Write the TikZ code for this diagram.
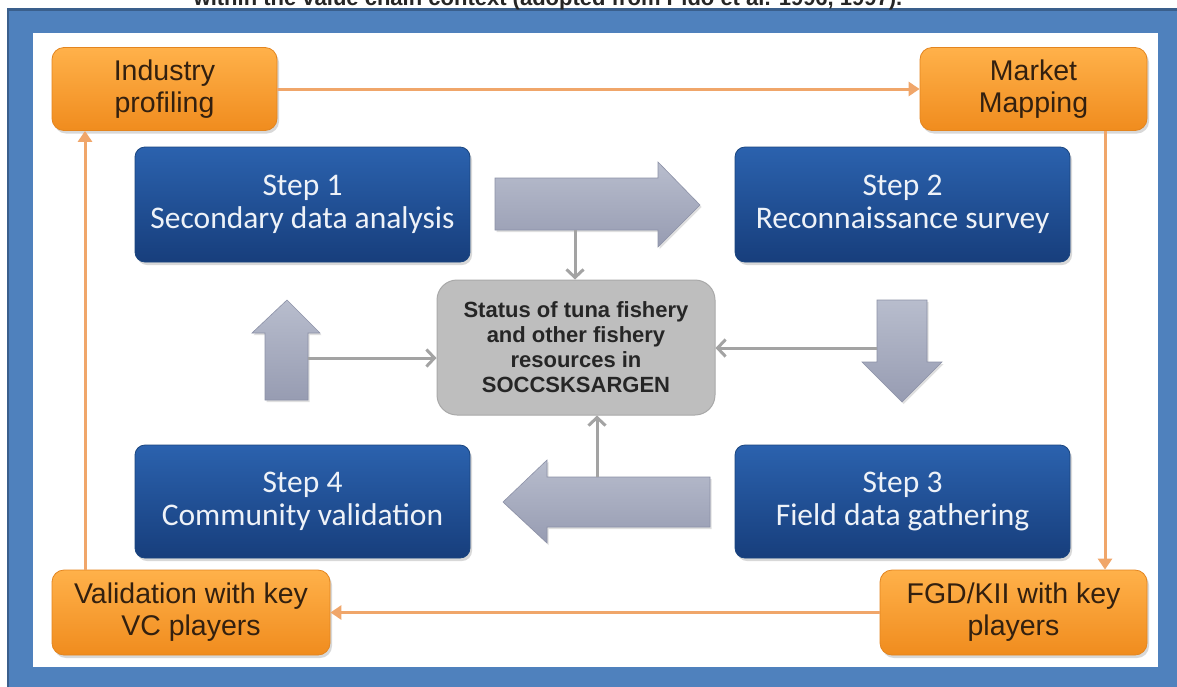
\documentclass[tikz,border=0pt]{standalone}
\usepackage{fontspec}
\setmainfont{Liberation Sans}
\newfontfamily\calib{Carlito}
\usetikzlibrary{arrows.meta,shadows,calc}
\definecolor{framecol}{HTML}{4F81BD}
\definecolor{framedark}{HTML}{3A5F8C}
\definecolor{ortop}{HTML}{FFB14A}
\definecolor{orbot}{HTML}{F08C1E}
\definecolor{ordraw}{HTML}{E3851F}
\definecolor{ortext}{HTML}{33200F}
\definecolor{orline}{HTML}{F0A66A}
\definecolor{bltop}{HTML}{2B62AE}
\definecolor{blbot}{HTML}{173E7C}
\definecolor{bldraw}{HTML}{1A457F}
\definecolor{bltext}{HTML}{EEF2F8}
\definecolor{grfill}{HTML}{BEBEBE}
\definecolor{grdraw}{HTML}{A9A9A9}
\definecolor{grline}{HTML}{A3A3A3}
\definecolor{artop}{HTML}{B8BDCD}
\definecolor{arbot}{HTML}{979CB2}
\definecolor{ardraw}{HTML}{8C91A7}
\begin{document}
\begin{tikzpicture}[x=1pt,y=-1pt,
  orbox/.style={rounded corners=12pt, draw=ordraw, line width=0.8pt,
    top color=ortop, bottom color=orbot, inner sep=0pt, align=center,
    text=ortext, font=\fontsize{28.5}{32}\selectfont,
    drop shadow={opacity=0.3, shadow xshift=2pt, shadow yshift=-3pt}},
  stepbox/.style={rounded corners=10pt, draw=bldraw, line width=0.8pt,
    top color=bltop, bottom color=blbot, inner sep=0pt, align=center,
    minimum width=335pt, text=bltext, font=\calib\fontsize{31.5}{33}\selectfont,
    drop shadow={opacity=0.3, shadow xshift=2pt, shadow yshift=-3pt}},
  statusbox/.style={rounded corners=20pt, draw=grdraw, line width=1pt,
    fill=grfill, inner sep=0pt, align=center, minimum width=278pt,
    minimum height=135pt, text=black!85,
    font=\bfseries\fontsize{22}{25}\selectfont},
  blockarrow/.style={top color=artop, bottom color=arbot, draw=ardraw, line width=0.6pt,
    drop shadow={opacity=0.25, shadow xshift=1.5pt, shadow yshift=-2pt}},
  orconn/.style={draw=orline, line width=3pt, -{Triangle[length=11pt,width=14pt]}},
  grconn/.style={draw=grline, line width=3pt, -{Straight Barb[length=8pt,width=17pt]}}
]
\useasboundingbox (0,0) rectangle (1177,686);
\clip (0,0) rectangle (1177,686);

% frame
\fill[framecol] (7,8) rectangle (1185,695);
\draw[framedark, line width=3pt] (7,9.5) -- (1185,9.5);
\draw[framedark, line width=2pt] (8,8) -- (8,695);
\fill[white] (33,33) rectangle (1158,667);

% cut-off title
\node[anchor=base, font=\bfseries\fontsize{22}{26}\selectfont, text=black!85] (title) at (548,5)
  {within the value chain context (adopted from Pido et al. 1996, 1997).};

% orange boxes
\node[orbox, minimum width=225pt, minimum height=83pt] (ind) at (164.5,89) {Industry\\profiling};
\node[orbox, minimum width=227pt, minimum height=83pt] (mkt) at (1033.5,89) {Market\\Mapping};
\node[orbox, minimum width=278pt, minimum height=85pt] (val) at (191,612.5) {Validation with key\\VC players};
\node[orbox, minimum width=267pt, minimum height=85pt] (fgd) at (1013.5,612.5) {FGD/KII with key\\players};

% step boxes
\node[stepbox, minimum height=115pt] (s1) at (302.5,204.5) {Step 1\\Secondary data analysis};
\node[stepbox, minimum height=115pt] (s2) at (902.5,204.5) {Step 2\\Reconnaissance survey};
\node[stepbox, minimum height=113pt] (s3) at (902.5,501.5) {Step 3\\Field data gathering};
\node[stepbox, minimum height=113pt] (s4) at (302.5,501.5) {Step 4\\Community validation};

% status box
\node[statusbox] (status) at (576,347.5) {Status of tuna fishery\\and other fishery\\resources in\\SOCCSKSARGEN};

% block arrows
\path[blockarrow] (495,178) -- (658,178) -- (658,162) -- (700,205) -- (658,247) -- (658,230) -- (495,230) -- cycle;
\path[blockarrow] (877,300) -- (927,300) -- (927,362) -- (942,362) -- (902,402) -- (862,362) -- (877,362) -- cycle;
\path[blockarrow] (287,300) -- (320,333) -- (308,333) -- (308,400) -- (265,400) -- (265,333) -- (252,333) -- cycle;
\path[blockarrow] (503,502) -- (547,460) -- (547,477) -- (710,477) -- (710,527) -- (547,527) -- (547,543) -- cycle;

\coordinate (rA) at (575,230);
\coordinate (dA) at (877,348);
\coordinate (uA) at (308,358);
\coordinate (lA) at (597,477);

% grey connectors
\draw[grconn] (rA) -- (rA |- status.north);
\draw[grconn] (dA) -- (dA -| status.east);
\draw[grconn] (uA) -- (uA -| status.west);
\draw[grconn] (lA) -- (lA |- status.south);

% orange connectors
\coordinate (mk) at ([xshift=71.5pt]mkt.south);
\coordinate (vk) at ([xshift=-106pt]val.north);
\draw[orconn] (ind.east) -- (mkt.west);
\draw[orconn] (mk) -- (mk |- fgd.north);
\draw[orconn] (fgd.west) -- (val.east);
\draw[orconn] (vk) -- (vk |- ind.south);
\end{tikzpicture}
\end{document}
